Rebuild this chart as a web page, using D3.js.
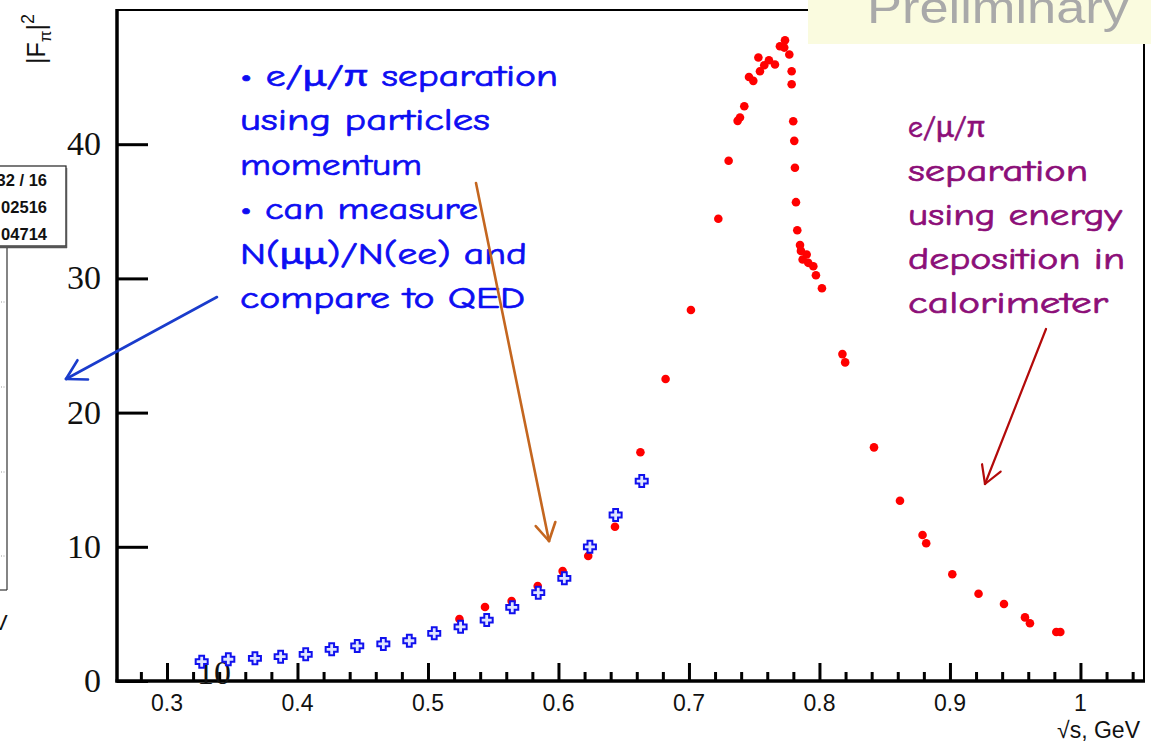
<!DOCTYPE html>
<html>
<head>
<meta charset="utf-8">
<script src="https://cdn.jsdelivr.net/npm/d3@7"></script>
<style>
  html, body { margin: 0; padding: 0; background: #ffffff; }
  svg { display: block; }
</style>
</head>
<body>
<svg id="chart" width="1151" height="746"></svg>
<script>
// Pion form factor |F_pi|^2 versus sqrt(s): two particle-separation methods

// Points separated by particle momentum (blue crosses)
const momentumSepEnergy = [0.3266, 0.3470, 0.3674, 0.3871, 0.4063, 0.4262, 0.4458, 0.4658, 0.4857,
  0.5048, 0.5250, 0.5450, 0.5646, 0.5845, 0.6045, 0.6241, 0.6438, 0.6638];
const momentumSepF2 = [1.44, 1.62, 1.69, 1.81, 1.99, 2.36, 2.61, 2.76, 3.00,
  3.55, 4.04, 4.54, 5.49, 6.58, 7.65, 10.0, 12.37, 14.90];

// Points separated by calorimeter energy deposition (red dots)
const calorimeterSepEnergy = [0.5241, 0.5437, 0.5641, 0.5841, 0.6032, 0.6228, 0.6433, 0.6628, 0.6821,
  0.7015, 0.7225, 0.7304, 0.7373, 0.7391, 0.7424, 0.7460, 0.7493, 0.7532, 0.7544, 0.7577, 0.7613,
  0.7659, 0.7697, 0.7730, 0.7736, 0.7769, 0.7787, 0.7787, 0.7799, 0.7807, 0.7812, 0.7820, 0.7830,
  0.7851, 0.7858, 0.7902, 0.7871, 0.7914, 0.7953, 0.7973, 0.8019, 0.8176, 0.8197, 0.8418, 0.8617,
  0.8790, 0.8818, 0.9018, 0.9219, 0.9414, 0.9575, 0.9613, 0.9815, 0.9846];
const calorimeterSepF2 = [4.62, 5.51, 5.96, 7.08, 8.19, 9.31, 11.49, 17.04, 22.50,
  27.64, 34.44, 38.77, 41.74, 41.99, 42.83, 45.01, 44.72, 46.46, 45.44, 45.88, 46.26,
  45.94, 47.30, 47.20, 47.75, 46.68, 45.44, 44.47, 41.71, 40.25, 38.24, 35.68, 33.59,
  32.48, 32.05, 31.78, 31.41, 31.16, 30.91, 30.24, 29.27, 24.36, 23.74, 17.41, 13.43,
  10.88, 10.26, 7.95, 6.50, 5.74, 4.74, 4.30, 3.65, 3.65];

// Axis ticks
const xMajorTicks = [0.3, 0.4, 0.5, 0.6, 0.7, 0.8, 0.9, 1.0];
const xTickLabels = ["0.3", "0.4", "0.5", "0.6", "0.7", "0.8", "0.9", "1"];
const xMinorTicks = d3.range(14, 53).map(i => i * 0.02).filter(v => Math.abs(v * 10 - Math.round(v * 10)) > 1e-6);
const yTicks = [0, 10, 20, 30, 40];
const yTickLabels = ["0", "10", "20", "30", "40"];

// Annotation text
const momentumNote = ["\u2022 e/\u03bc/\u03c0 separation", "using particles", "momentum",
  "\u2022 can measure", "N(\u03bc\u03bc)/N(ee) and", "compare to QED"];
const momentumNoteWidths = [318, 250, 182, 238, 287, 285];
const calorimeterNote = ["e/\u03bc/\u03c0", "separation", "using energy", "deposition in", "calorimeter"];
const calorimeterNoteWidths = [77, 180, 214, 217, 200];
const statsLines = ["32 / 16", "02516", "04714"];

const svg = d3.select("#chart");
const W = 1151, H = 746;
const plot = { left: 117, right: 1144, top: 10, bottom: 681 };

const x = d3.scaleLinear().domain([0.2617, 1.0487]).range([plot.left, plot.right]);
const y = d3.scaleLinear().domain([0, 50]).range([plot.bottom, plot.top]);

const handFont = "'Comic Sans MS', 'Comic Neue', Lato, 'Open Sans', sans-serif";

// ---- neighbouring panel fragment on the left edge ----
const left = svg.append("g");
left.append("rect").attr("x", -10).attr("y", 166).attr("width", 76).attr("height", 80)
  .attr("fill", "#ffffff").attr("stroke", "#222").attr("stroke-width", 1.2);
left.append("line").attr("x1", 0).attr("x2", 67).attr("y1", 247).attr("y2", 247)
  .attr("stroke", "#555").attr("stroke-width", 2.5);
left.append("line").attr("x1", 66.5).attr("x2", 66.5).attr("y1", 168).attr("y2", 248)
  .attr("stroke", "#555").attr("stroke-width", 1.5);
left.selectAll("text.stat").data(statsLines).join("text")
  .attr("class", "stat")
  .attr("x", 47).attr("y", (d, i) => 186 + i * 26.8)
  .attr("text-anchor", "end")
  .attr("font-family", "'Liberation Sans', Arial, sans-serif")
  .attr("font-weight", "bold").attr("font-size", 16.5)
  .attr("fill", "#111").text(d => d);
left.append("line").attr("x1", 7).attr("x2", 7).attr("y1", 248).attr("y2", 590)
  .attr("stroke", "#333").attr("stroke-width", 1.2);
left.append("line").attr("x1", 0).attr("x2", 7).attr("y1", 590).attr("y2", 590)
  .attr("stroke", "#333").attr("stroke-width", 1.2);
[302, 387, 472, 556].forEach(yy => {
  left.append("line").attr("x1", 1).attr("x2", 6).attr("y1", yy).attr("y2", yy)
    .attr("stroke", "#999").attr("stroke-width", 1).attr("stroke-dasharray", "1,1.5");
});
left.append("text").attr("x", -7).attr("y", 630)
  .attr("font-family", "'Liberation Sans', Arial, sans-serif").attr("font-size", 22)
  .attr("fill", "#111").text("V");

// ---- frame ----
const frame = svg.append("g").attr("stroke", "#000");
frame.append("line").attr("x1", plot.left).attr("x2", plot.right).attr("y1", plot.top).attr("y2", plot.top)
  .attr("stroke-width", 2);
frame.append("line").attr("x1", plot.right).attr("x2", plot.right).attr("y1", plot.top).attr("y2", plot.bottom)
  .attr("stroke-width", 2);
frame.append("line").attr("x1", plot.left).attr("x2", plot.left).attr("y1", plot.top - 1).attr("y2", plot.bottom + 1.5)
  .attr("stroke-width", 3.5);
frame.append("line").attr("x1", plot.left - 1.5).attr("x2", plot.right + 1).attr("y1", plot.bottom).attr("y2", plot.bottom)
  .attr("stroke-width", 3.5);

// ---- x axis: ticks point into the plot ----
const xAxisMajor = d3.axisTop(x).tickValues(xMajorTicks).tickSize(18).tickFormat("");
const xAxisMinor = d3.axisTop(x).tickValues(xMinorTicks).tickSize(9).tickFormat("");
const gxMinor = svg.append("g").attr("transform", `translate(0,${plot.bottom})`).call(xAxisMinor);
const gxMajor = svg.append("g").attr("transform", `translate(0,${plot.bottom})`).call(xAxisMajor);
[gxMinor, gxMajor].forEach(g => {
  g.select(".domain").remove();
  g.selectAll(".tick line").attr("stroke", "#000").attr("stroke-width", 3);
});
svg.append("g").selectAll("text").data(xMajorTicks).join("text")
  .attr("x", d => x(d)).attr("y", 711)
  .attr("text-anchor", "middle")
  .attr("font-family", "'Liberation Sans', Arial, Helvetica, sans-serif")
  .attr("font-size", 23).attr("fill", "#111")
  .text((d, i) => xTickLabels[i]);

// x-axis title
svg.append("text").attr("x", 1140).attr("y", 738).attr("text-anchor", "end")
  .attr("font-family", "'Liberation Sans', Arial, Helvetica, sans-serif")
  .attr("font-size", 23).attr("fill", "#111").text("\u221as, GeV");

// ---- y axis ----
const yAxis = d3.axisRight(y).tickValues(yTicks).tickSize(31).tickFormat("");
const gy = svg.append("g").attr("transform", `translate(${plot.left},0)`).call(yAxis);
gy.select(".domain").remove();
gy.selectAll(".tick line").attr("stroke", "#000").attr("stroke-width", 3);
svg.append("g").selectAll("text").data(yTicks).join("text")
  .attr("x", 101).attr("y", d => y(d) + 11)
  .attr("text-anchor", "end")
  .attr("font-family", "'Liberation Serif', 'Times New Roman', serif")
  .attr("font-size", 34).attr("fill", "#111")
  .text((d, i) => yTickLabels[i]);

// stray exponent label near the origin
svg.append("text").attr("x", 197).attr("y", 684)
  .attr("font-family", "'Liberation Serif', 'Times New Roman', serif")
  .attr("font-size", 34).attr("fill", "#111").text("10");

// y-axis title |F_pi|^2
const yTitle = svg.append("text")
  .attr("transform", "translate(45,64) rotate(-90)")
  .attr("font-family", "'Liberation Sans', Arial, Helvetica, sans-serif")
  .attr("font-size", 25).attr("fill", "#111");
yTitle.append("tspan").text("|F");
yTitle.append("tspan").attr("dy", 6).attr("font-size", 17).text("\u03c0");
yTitle.append("tspan").attr("dy", -6).text("|");
yTitle.append("tspan").attr("dy", -11).attr("font-size", 18).text("2");

// ---- data points ----
const calorimeterPts = calorimeterSepEnergy.map((e, i) => ({ e, f: calorimeterSepF2[i] }));
const momentumPts = momentumSepEnergy.map((e, i) => ({ e, f: momentumSepF2[i] }));

svg.append("g").selectAll("circle").data(calorimeterPts).join("circle")
  .attr("cx", d => x(d.e)).attr("cy", d => y(d.f)).attr("r", 4.3)
  .attr("fill", "#ff0000");

const plusPath = (() => {
  const a = 6, b = 2.4;
  return `M${-b},${-a}H${b}V${-b}H${a}V${b}H${b}V${a}H${-b}V${b}H${-a}V${-b}H${-b}Z`;
})();
svg.append("g").selectAll("path").data(momentumPts).join("path")
  .attr("transform", d => `translate(${x(d.e)},${y(d.f)})`)
  .attr("d", plusPath)
  .attr("fill", "#dfe4ff").attr("stroke", "#1010ee").attr("stroke-width", 2);

// ---- annotations ----
svg.append("g").selectAll("text").data(momentumNote).join("text")
  .attr("x", 240).attr("y", (d, i) => 86 + i * 44.4)
  .attr("font-family", handFont).attr("font-size", 31)
  .attr("fill", "#0d0df2").attr("stroke", "#0d0df2").attr("stroke-width", 0.7)
  .attr("textLength", (d, i) => momentumNoteWidths[i])
  .attr("lengthAdjust", "spacingAndGlyphs")
  .text(d => d);

svg.append("g").selectAll("text").data(calorimeterNote).join("text")
  .attr("x", 908).attr("y", (d, i) => 137 + i * 44)
  .attr("font-family", handFont).attr("font-size", 31)
  .attr("fill", "#8c0e78").attr("stroke", "#8c0e78").attr("stroke-width", 0.7)
  .attr("textLength", (d, i) => calorimeterNoteWidths[i])
  .attr("lengthAdjust", "spacingAndGlyphs")
  .text(d => d);

// arrows with open heads
function arrow(x1, y1, x2, y2, color, width, headLen) {
  const g = svg.append("g").attr("stroke", color).attr("stroke-width", width)
    .attr("fill", "none").attr("stroke-linecap", "round");
  g.append("line").attr("x1", x1).attr("y1", y1).attr("x2", x2).attr("y2", y2);
  const ang = Math.atan2(y1 - y2, x1 - x2);
  const spread = Math.PI / 6;
  [ang - spread, ang + spread].forEach(a => {
    g.append("line").attr("x1", x2).attr("y1", y2)
      .attr("x2", x2 + headLen * Math.cos(a)).attr("y2", y2 + headLen * Math.sin(a));
  });
}
arrow(217, 297, 66, 379, "#1a3ccc", 2.6, 22);
arrow(476, 183, 549, 541, "#c4661f", 2.6, 20);
arrow(1046, 329, 985, 484, "#b30a0a", 2.2, 20);

// ---- "Preliminary" banner ----
svg.append("rect").attr("x", 808).attr("y", 0).attr("width", W - 808).attr("height", 44)
  .attr("fill", "#fafbdf");
svg.append("text").attr("x", 867).attr("y", 23)
  .attr("font-family", "'Liberation Sans', Arial, Helvetica, sans-serif")
  .attr("font-size", 44).attr("fill", "#a9a9a9")
  .attr("textLength", 262).attr("lengthAdjust", "spacingAndGlyphs")
  .text("Preliminary");
</script>
</body>
</html>
